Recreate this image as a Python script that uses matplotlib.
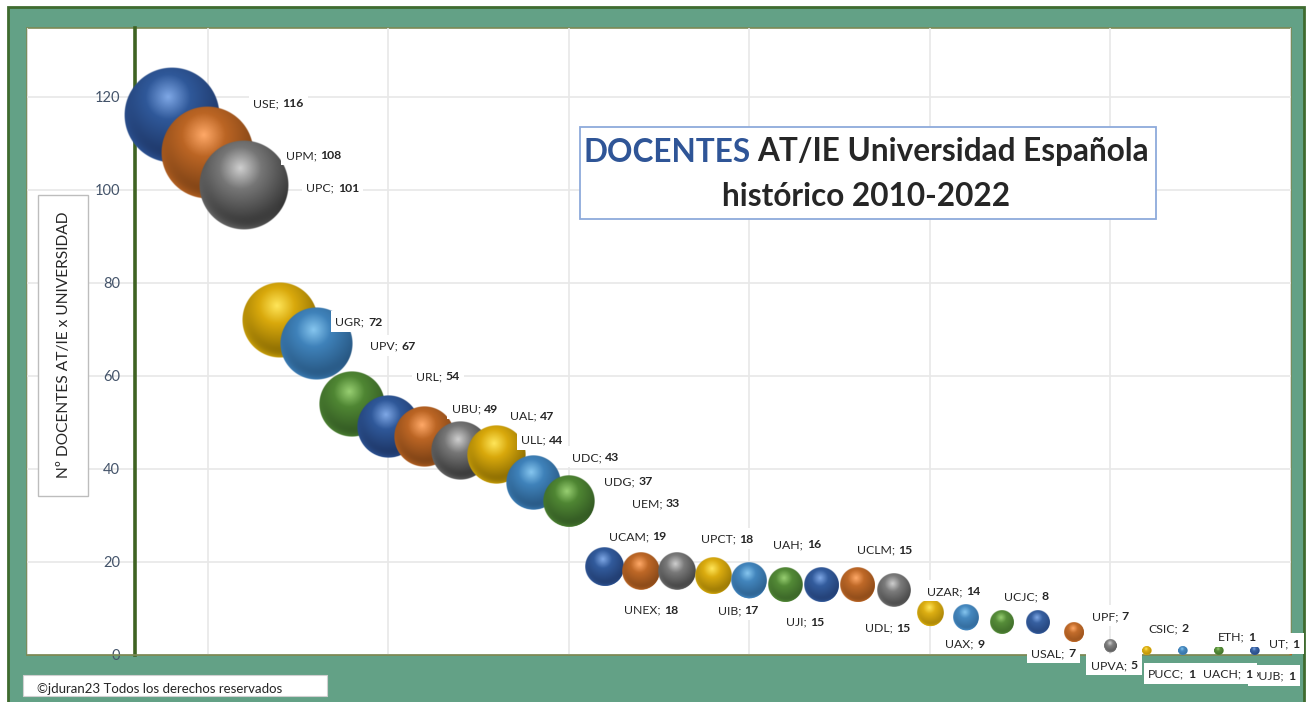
# Docentes AT/IE por universidad - bubble chart with shaded spheres
import numpy as np
import matplotlib
matplotlib.use("Agg")
import matplotlib.pyplot as plt
from matplotlib.patches import Rectangle
from matplotlib.transforms import IdentityTransform

W, H = 1311, 702

universidades = ["USE", "UPM", "UPC", "UGR", "UPV", "URL", "UBU", "UAL", "ULL", "UDC", "UDG",
                 "UEM", "UCAM", "UNEX", "UPCT", "UIB", "UAH", "UJI", "UCLM", "UDL", "UZAR",
                 "UAX", "UCJC", "USAL", "UPF", "UPVA", "CSIC", "PUCC", "UACH", "ETH", "PUJB", "UT"]
docentes = [116, 108, 101, 72, 67, 54, 49, 47, 44, 43, 37,
            33, 19, 18, 18, 17, 16, 15, 15, 15, 14,
            9, 8, 7, 7, 5, 2, 1, 1, 1, 1, 1]
y_ticks = [0, 20, 40, 60, 80, 100, 120]
x_grid = [-3, 2, 7, 12, 17, 22, 27, 32]

# label offset from bubble centre, in pixels
label_dx = [107, 106, 89, 79, 77, 86, 87, 108, 82, 99, 96,
            87, 33, 10, 50, 25, 48, 20, 63, 30, 60,
            35, 60, 51, 72, 40, 58, 25, 45, 18, 19, -7]
label_dy = [13, -2, -2, -1, -2, 28, 19, 21, 11, -2, 2,
            -1, 31, -38, 33, -34, 37, -36, 36, -42, -1,
            -30, 22, -30, 7, -33, 18, -23, -23, 14, -25, 7]

# highlight, base, dark for each colour of the cycle
palette = [("#7fa8e6", "#2f5899", "#1a2f5c"),
           ("#ffa968", "#bb6524", "#6f3a12"),
           ("#cfcfcf", "#767676", "#2a2a2a"),
           ("#ffe65a", "#d9a90c", "#7a5f00"),
           ("#86c6ef", "#3f82ba", "#234f78"),
           ("#98cf72", "#4f8633", "#2d5020")]

plt.rcParams["font.family"] = ["Lato", "DejaVu Sans"]
fig = plt.figure(figsize=(W / 100, H / 100), dpi=100, facecolor="white")


def fx(x):
    return x / W


def fy(y):
    return 1 - y / H


def box(x0, y0, x1, y1, face, edge, lw, z=1):
    fig.patches.append(Rectangle((fx(x0), fy(y1)), (x1 - x0) / W, (y1 - y0) / H, transform=fig.transFigure,
                                 facecolor=face, edgecolor=edge, linewidth=lw, zorder=z))


def rgb(c):
    return np.array(matplotlib.colors.to_rgb(c))


def sphere(colors, depth, n=300):
    # depth 0..1: small bubbles get a paler, flatter shading
    hi, base, dark = [rgb(c) for c in colors]
    dark = base * (1 - depth) + dark * depth
    base = base * (0.8 + 0.2 * depth) + hi * (0.2 - 0.2 * depth)
    v, u = np.mgrid[1:-1:n * 1j, -1:1:n * 1j]
    r = np.hypot(u, v)
    t = np.clip(np.hypot(u + 0.08, v - 0.38) / 1.38, 0, 1)
    a = np.clip(t / 0.34, 0, 1)[..., None]
    b = np.clip((t - 0.34) / 0.66, 0, 1)[..., None]
    img = hi * (1 - a) + base * a
    img = img * (1 - b) + dark * b
    # pale reflected rim at the bottom
    rim = (np.clip((r - 0.7) / 0.3, 0, 1) ** 2 * np.clip(-v - u * 0.5, 0, 1) * 0.6)[..., None]
    img = img * (1 - rim) + np.clip(base * 1.2, 0, 1) * rim
    alpha = np.clip((1 - r) * n / 6, 0, 1)[..., None]
    return np.clip(np.dstack([img, alpha]), 0, 1)


# background panels
box(8, 7, 1304, 710, "#63a186", "#3f6b2f", 2)
box(27, 28, 1291, 655, "white", "#7d8a55", 1.2)

ax = fig.add_axes([fx(27), fy(655), (1291 - 27) / W, (655 - 28) / H])
ax.set_zorder(2)
ax.patch.set_alpha(0)
ax.set_xlim(-3, 32)
ax.set_ylim(0, 134.8)
ax.set_xticks(x_grid)
ax.set_yticks(y_ticks)
ax.set_xticklabels([])
ax.grid(color="#e8e8e8", linewidth=1.2)
ax.set_axisbelow(True)
ax.tick_params(length=0, pad=11, labelsize=10.5, labelcolor="#44546a")
for s in ["top", "right"]:
    ax.spines[s].set_visible(False)
ax.spines["bottom"].set_color("#7d8a55")
ax.spines["bottom"].set_linewidth(1.2)
ax.spines["left"].set_position(("data", 0))
ax.spines["left"].set_color("#3f6322")
ax.spines["left"].set_linewidth(2.6)

x = np.arange(1, len(docentes) + 1)
px_x = ax.transData.transform((1, 0))[0] - ax.transData.transform((0, 0))[0]
px_y = ax.transData.transform((0, 1))[1] - ax.transData.transform((0, 0))[1]
sizes = np.array(docentes) * 41.0   # area in points^2, biggest radius about 48 px

renderer = fig.canvas.get_renderer()
for i in range(len(docentes)):
    colors = palette[i % len(palette)]
    z = 3 + i * 2
    ax.scatter(x[i], docentes[i], s=sizes[i] * 0.9, color=colors[1], linewidths=0, zorder=z)
    r_px = np.sqrt(sizes[i]) / 2 / 0.72
    depth = min(1, 0.35 + docentes[i] / 40)
    ax.imshow(sphere(colors, depth), aspect="auto", zorder=z + 1, interpolation="bilinear",
              extent=(x[i] - r_px / px_x, x[i] + r_px / px_x, docentes[i] - r_px / px_y, docentes[i] + r_px / px_y))
ax.set_xlim(-3, 32)
ax.set_ylim(0, 134.8)

# labels: name in regular, value in bold, one white box behind both
for i in range(len(docentes)):
    z = 300 - i
    style = dict(xy=(x[i], docentes[i]), textcoords="offset pixels", fontsize=8.8, color="#262626",
                 ha="left", va="baseline", annotation_clip=False, zorder=z + 0.5)
    base_dy = label_dy[i] - 4.5
    t1 = ax.annotate(universidades[i] + ";", xytext=(label_dx[i], base_dy), **style)
    t2 = ax.annotate(str(docentes[i]), xytext=(label_dx[i], base_dy), fontweight="bold", **style)
    w1 = t1.get_window_extent(renderer).width + 3.5
    w2 = t2.get_window_extent(renderer).width
    left = label_dx[i] - (w1 + w2) / 2
    t1.set_position((left, base_dy))
    t2.set_position((left + w1, base_dy))
    cx, cy = ax.transData.transform((x[i], docentes[i]))
    ax.add_patch(Rectangle((cx + left - 4.5, cy + label_dy[i] - 10.5), w1 + w2 + 9, 21, transform=IdentityTransform(),
                           facecolor="white", edgecolor="none", clip_on=False, zorder=z))

# y axis title box
box(38, 195, 88, 496, "white", "#bdbdbd", 1, z=3)
fig.text(fx(64), fy(345), "Nº DOCENTES AT/IE x UNIVERSIDAD", rotation=90, fontsize=11.2,
         color="#262626", ha="center", va="center", zorder=4)

# title box
box(580, 127, 1156, 219, "white", "#8eaadb", 1.3, z=3)
t_a = fig.text(fx(585), fy(152), "DOCENTES", fontsize=22.7, fontweight="bold", color="#2f5597", va="center", zorder=4)
t_b = fig.text(fx(585), fy(152), "AT/IE Universidad Española", fontsize=22.7, fontweight="bold", color="#262626", va="center", zorder=4)
wa = t_a.get_window_extent(renderer).width + 7
wb = t_b.get_window_extent(renderer).width
start = 866 - (wa + wb) / 2
t_a.set_x(fx(start))
t_b.set_x(fx(start + wa))
fig.text(fx(866), fy(196), "histórico 2010-2022", fontsize=22.7, fontweight="bold", color="#262626",
         ha="center", va="center", zorder=4)

# copyright box
box(23, 675, 327, 696, "white", "#d0d0d0", 0.8, z=3)
fig.text(fx(37), fy(689), "©jduran23 Todos los derechos reservados", fontsize=9.5, color="#262626", va="center", zorder=4)

fig.savefig("out.png", dpi=100)
